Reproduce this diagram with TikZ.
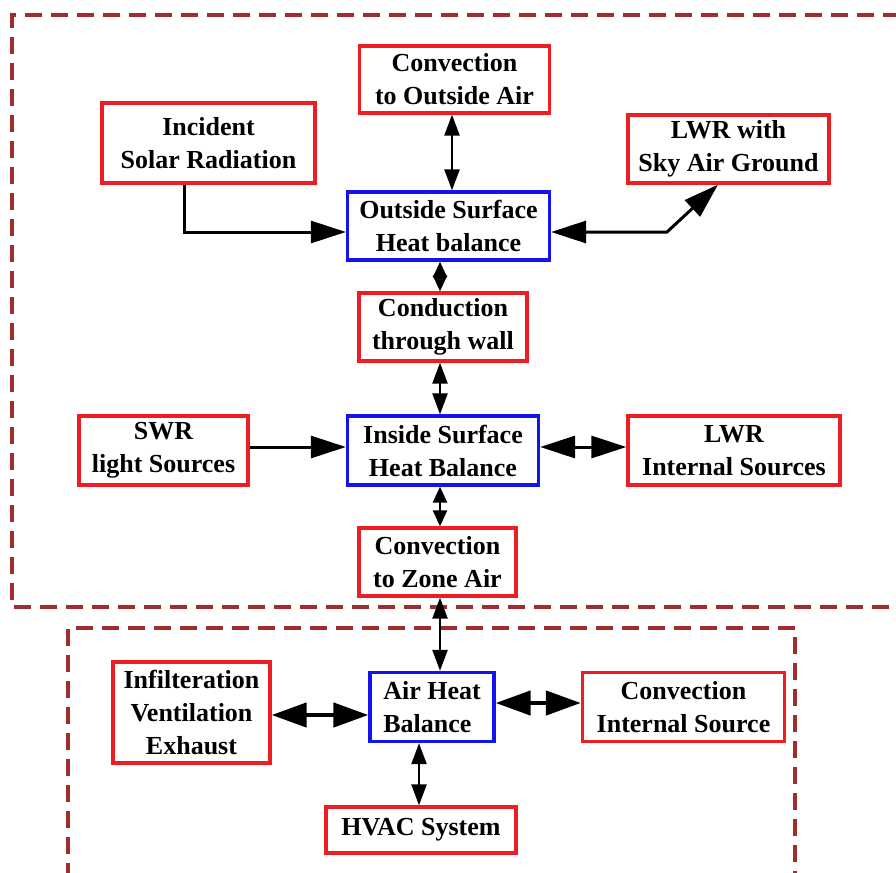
\documentclass[tikz,border=0pt]{standalone}
\usepackage{fontspec}
\setmainfont{Liberation Serif}
\usetikzlibrary{arrows.meta}
\definecolor{boxred}{RGB}{235,30,35}
\definecolor{boxblue}{RGB}{20,20,240}
\definecolor{dashred}{RGB}{160,45,45}
\begin{document}
\begin{tikzpicture}[x=1pt,y=-1pt,
  basebox/.style={draw, line width=3.3pt, inner sep=0pt, align=center,
    font=\fontsize{26}{33}\selectfont\bfseries},
  redbox/.style={basebox, draw=boxred},
  bluebox/.style={basebox, draw=boxblue},
  zone/.style={draw=dashred, line width=3.2pt, dash pattern=on 17pt off 9pt},
  vdbl/.style={line width=2.4pt, {Triangle[length=21pt,width=15pt]}-{Triangle[length=21pt,width=15pt]}},
  vshort/.style={line width=2.4pt, {Triangle[length=16pt,width=14pt]}-{Triangle[length=16pt,width=14pt]}},
  hdbl/.style={line width=3pt, {Triangle[length=35pt,width=22pt]}-{Triangle[length=35pt,width=22pt]}},
  hsgl/.style={line width=3pt, -{Triangle[length=35pt,width=22pt]}},
  thickdbl/.style={line width=4.5pt, {Triangle[length=35pt,width=24pt]}-{Triangle[length=35pt,width=24pt]}}
]
\useasboundingbox (0,0) rectangle (896,872);
\fill[white] (0,0) rectangle (896,872);

% zones
\draw[zone] (900,15) -- (12,15) -- (12,607) -- (900,607);
\draw[zone] (68,880) -- (68,628) -- (795,628) -- (795,880);

% boxes
\node[redbox, minimum width=190pt, minimum height=67pt] (conv) at (454.5,79.5) {Convection\\to Outside Air};
\node[redbox, minimum width=213pt, minimum height=80pt] (inc) at (208.5,143) {Incident\\Solar Radiation};
\node[redbox, minimum width=201pt, minimum height=68pt] (lwrs) at (728.5,149) {LWR with\\Sky Air Ground};
\node[bluebox, minimum width=202pt, minimum height=68pt] (osh) at (448.5,226) {Outside Surface\\Heat balance};
\node[redbox, minimum width=168pt, minimum height=68pt] (cond) at (443,327) {Conduction\\through wall};
\node[redbox, minimum width=169pt, minimum height=69pt] (swr) at (163.5,450.5) {SWR\\light Sources};
\node[bluebox, minimum width=191pt, minimum height=69pt] (ish) at (443,450.5) {Inside Surface\\Heat Balance};
\node[redbox, minimum width=212pt, minimum height=69pt] (lwri) at (734,450.5) {LWR\\Internal Sources};
\node[redbox, minimum width=157pt, minimum height=68pt] (czone) at (437.5,562) {Convection\\to Zone Air};
\node[redbox, minimum width=157pt, minimum height=101pt] (inf) at (191.5,712.5) {Infilteration\\Ventilation\\Exhaust};
\node[bluebox, minimum width=124pt, minimum height=69pt, align=left] (ahb) at (432,707) {Air Heat\\Balance};
\node[redbox, minimum width=202pt, minimum height=69pt] (cint) at (683.5,707) {Convection\\Internal Source};
\node[redbox, minimum width=190pt, minimum height=46pt] (hvac) at (421,830) {HVAC System};

% helper coordinates
\coordinate (ax) at (452,0);
\coordinate (bx) at (184,232);
\coordinate (cy) at (667,232);
\coordinate (cx) at (718,0);
\coordinate (dx) at (440,0);
\coordinate (fy) at (0,447);
\coordinate (jy) at (0,715);
\coordinate (ky) at (0,703);
\coordinate (lx) at (419,0);

% connectors
\draw[vdbl] (conv.south -| ax) -- (osh.north -| ax);
\draw[hsgl] (inc.south -| bx) -- (bx) -- (osh.west |- bx);
\draw[hdbl] (osh.east |- cy) -- (cy) -- (lwrs.south -| cx);
\draw[vshort] (osh.south -| dx) -- (cond.north -| dx);
\draw[vdbl] (cond.south -| dx) -- (ish.north -| dx);
\draw[hsgl] (swr.east |- fy) -- (ish.west |- fy);
\draw[hdbl] (ish.east |- fy) -- (lwri.west |- fy);
\draw[vshort] (ish.south -| dx) -- (czone.north -| dx);
\draw[vdbl] (czone.south -| dx) -- (ahb.north -| dx);
\draw[thickdbl] (inf.east |- jy) -- (ahb.west |- jy);
\draw[thickdbl] (ahb.east |- ky) -- (cint.west |- ky);
\draw[vdbl] (ahb.south -| lx) -- (hvac.north -| lx);
\end{tikzpicture}
\end{document}
